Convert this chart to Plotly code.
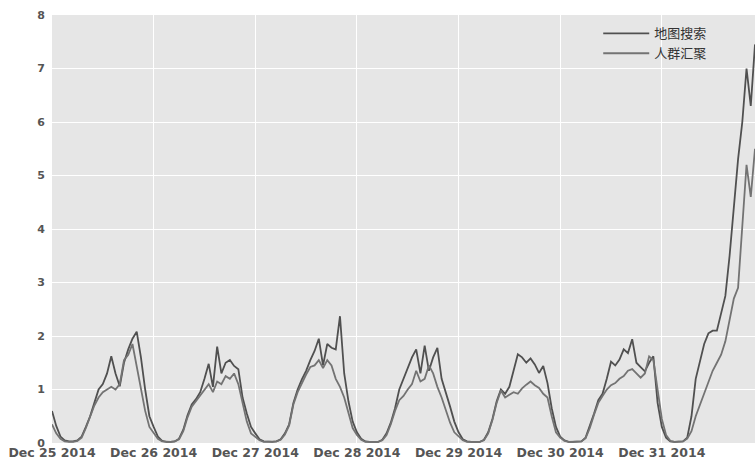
import pandas as pd
import plotly.graph_objects as go

# Hourly values, Dec 25 2014 00:00 -> Dec 31 2014 22:00
map_search = [
    # Dec 25
    0.60, 0.32, 0.12, 0.05, 0.03, 0.03, 0.05, 0.12, 0.30, 0.50, 0.75, 1.00,
    1.10, 1.30, 1.62, 1.30, 1.06, 1.50, 1.75, 1.95, 2.08, 1.60, 1.00, 0.50,
    # Dec 26
    0.30, 0.12, 0.04, 0.02, 0.02, 0.03, 0.08, 0.25, 0.52, 0.72, 0.82, 0.95,
    1.20, 1.48, 1.05, 1.80, 1.30, 1.50, 1.55, 1.44, 1.38, 0.85, 0.55, 0.30,
    # Dec 27
    0.18, 0.07, 0.03, 0.02, 0.02, 0.03, 0.07, 0.18, 0.35, 0.75, 1.00, 1.19,
    1.35, 1.55, 1.72, 1.95, 1.45, 1.85, 1.78, 1.75, 2.37, 1.30, 0.78, 0.40,
    # Dec 28
    0.20, 0.08, 0.03, 0.02, 0.02, 0.02, 0.06, 0.18, 0.38, 0.65, 1.00, 1.20,
    1.42, 1.60, 1.75, 1.30, 1.82, 1.35, 1.60, 1.78, 1.20, 0.95, 0.68, 0.40,
    # Dec 29
    0.20, 0.07, 0.03, 0.02, 0.02, 0.02, 0.06, 0.20, 0.45, 0.78, 1.00, 0.92,
    1.05, 1.35, 1.66, 1.60, 1.50, 1.58, 1.47, 1.31, 1.44, 1.12, 0.65, 0.30,
    # Dec 30
    0.12, 0.05, 0.02, 0.02, 0.02, 0.03, 0.10, 0.31, 0.55, 0.80, 0.92, 1.20,
    1.52, 1.45, 1.56, 1.75, 1.68, 1.94, 1.50, 1.42, 1.34, 1.50, 1.62, 0.75,
    # Dec 31
    0.30, 0.10, 0.03, 0.02, 0.02, 0.03, 0.10, 0.50, 1.20, 1.50, 1.85, 2.05,
    2.10, 2.10, 2.45, 2.75, 3.50, 4.40, 5.30, 6.00, 7.00, 6.30, 7.45,
]

crowd = [
    # Dec 25
    0.35, 0.18, 0.08, 0.03, 0.02, 0.02, 0.04, 0.10, 0.28, 0.48, 0.70, 0.85,
    0.95, 1.00, 1.05, 1.00, 1.10, 1.55, 1.65, 1.85, 1.45, 1.00, 0.60, 0.30,
    # Dec 26
    0.20, 0.08, 0.03, 0.02, 0.02, 0.03, 0.07, 0.22, 0.48, 0.68, 0.78, 0.90,
    1.00, 1.10, 0.95, 1.15, 1.10, 1.25, 1.20, 1.30, 1.10, 0.75, 0.40, 0.18,
    # Dec 27
    0.12, 0.05, 0.02, 0.02, 0.02, 0.03, 0.06, 0.16, 0.33, 0.72, 0.95, 1.12,
    1.28, 1.42, 1.45, 1.55, 1.40, 1.55, 1.45, 1.20, 1.05, 0.85, 0.55, 0.28,
    # Dec 28
    0.15, 0.06, 0.02, 0.02, 0.02, 0.02, 0.05, 0.15, 0.35, 0.60, 0.80, 0.88,
    1.00, 1.10, 1.35, 1.15, 1.20, 1.45, 1.30, 1.05, 0.85, 0.62, 0.38, 0.20,
    # Dec 29
    0.12, 0.05, 0.02, 0.02, 0.02, 0.02, 0.05, 0.18, 0.43, 0.75, 0.98, 0.85,
    0.90, 0.95, 0.92, 1.02, 1.09, 1.15, 1.08, 1.03, 0.92, 0.85, 0.50, 0.20,
    # Dec 30
    0.10, 0.04, 0.02, 0.02, 0.02, 0.03, 0.09, 0.28, 0.53, 0.75, 0.88, 1.00,
    1.08, 1.12, 1.20, 1.25, 1.35, 1.38, 1.30, 1.22, 1.30, 1.62, 1.55, 1.00,
    # Dec 31
    0.45, 0.15, 0.04, 0.02, 0.02, 0.03, 0.08, 0.22, 0.50, 0.72, 0.90, 1.15,
    1.35, 1.50, 1.65, 1.90, 2.30, 2.70, 2.90, 4.00, 5.20, 4.60, 5.50,
]

series_names = ["地图搜索", "人群汇聚"]
start_time = "2014-12-25 00:00"

times = pd.date_range(start_time, periods=len(map_search), freq="h")

fig = go.Figure()
fig.add_trace(go.Scatter(x=times, y=map_search, mode="lines", name=series_names[0],
                         line=dict(color="#505050", width=1.8)))
fig.add_trace(go.Scatter(x=times, y=crowd, mode="lines", name=series_names[1],
                         line=dict(color="#737373", width=1.8)))

fig.update_layout(
    width=755, height=471,
    margin=dict(l=52, r=0, t=15, b=28),
    paper_bgcolor="white",
    plot_bgcolor="#e6e6e6",
    showlegend=True,
    legend=dict(x=0.777, y=0.992, xanchor="left", yanchor="top",
                bgcolor="rgba(0,0,0,0)", itemwidth=46, tracegroupgap=0,
                font=dict(family="Noto Sans CJK SC", size=13, color="#333333")),
    xaxis=dict(type="date", range=[times[0], times[-1]], automargin=False,
               tick0=start_time, dtick=86400000, tickformat="%b %d %Y",
               showgrid=True, gridcolor="white", gridwidth=1.3,
               zeroline=False, showline=False, ticks="",
               tickfont=dict(family="DejaVu Sans", size=12.5, color="#555555", weight="bold")),
    yaxis=dict(range=[0, 8], dtick=1, showgrid=True, gridcolor="white", gridwidth=1.3,
               automargin=False, zeroline=False, showline=False, ticks="",
               ticklabelstandoff=6,
               tickfont=dict(family="DejaVu Sans", size=11, color="#555555", weight="bold")),
)

fig.write_html(
    "out.html",
    config={"displayModeBar": False},
    post_script="document.body.style.margin='0';document.body.style.overflow='hidden';",
)
